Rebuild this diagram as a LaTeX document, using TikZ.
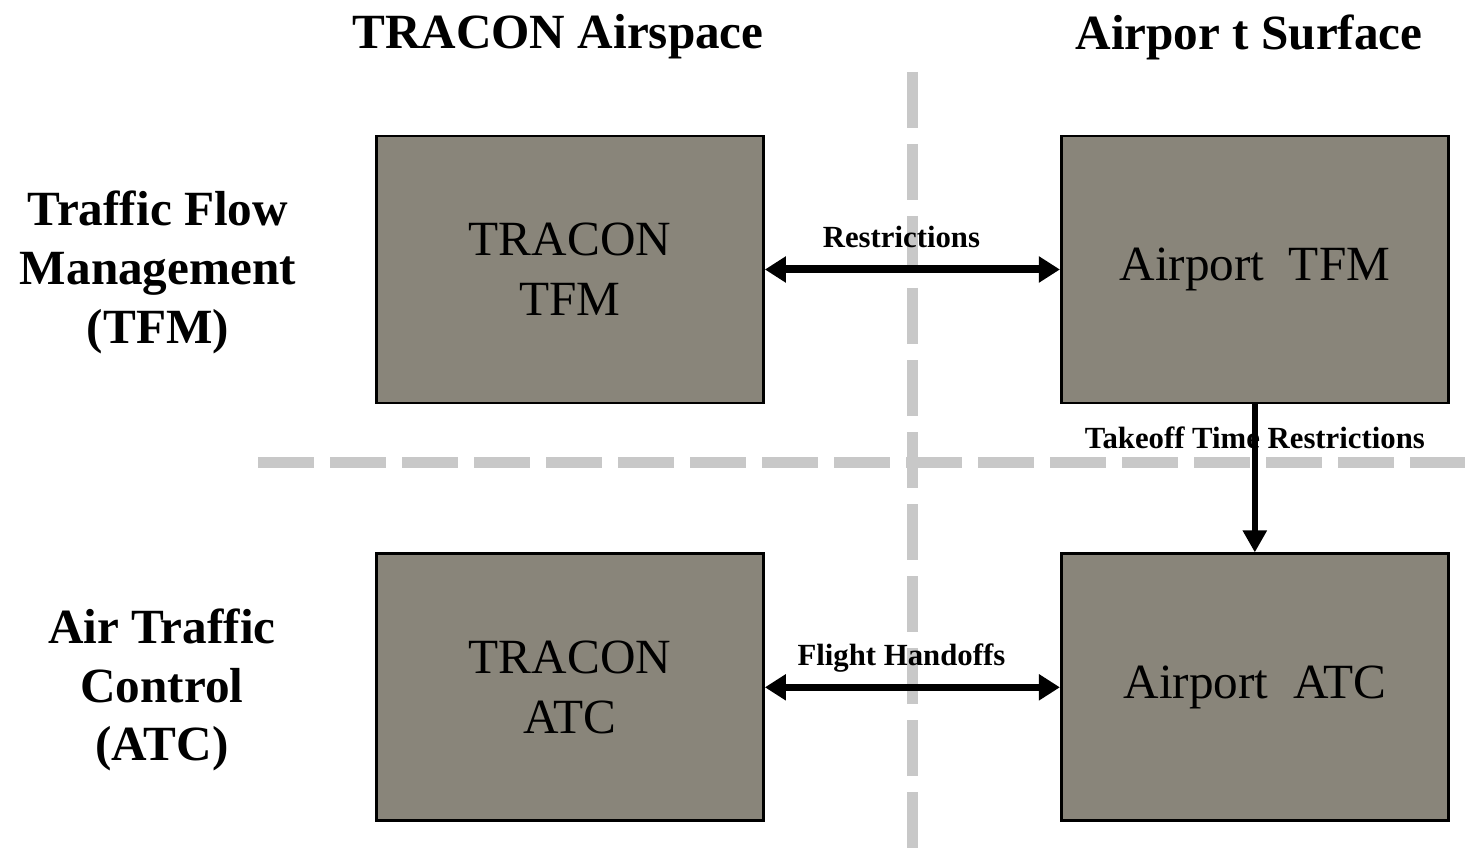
\documentclass[tikz,border=0pt]{standalone}
\usepackage{fontspec}
\setmainfont{Liberation Serif}
\usepackage{xcolor}
\usepackage{tikz}
\usetikzlibrary{positioning, arrows.meta}

\definecolor{boxfill}{RGB}{137,133,122}
\definecolor{divgray}{RGB}{200,200,200}

\begin{document}
\begin{tikzpicture}[
        box/.style={draw, line width=1.6pt, fill=boxfill, minimum width=7.74cm, minimum height=5.34cm,
                    inner sep=0pt, align=center, font=\fontsize{28}{34}\selectfont},
        heading/.style={align=center, font=\fontsize{28}{33.5}\selectfont\bfseries},
        lbl/.style={font=\fontsize{17.5}{20}\selectfont\bfseries, inner sep=0pt, anchor=base},
        divider/.style={divgray, line width=0.22cm, dash pattern=on 1.12cm off 0.32cm},
        link/.style={{Triangle[length=0.42cm,width=0.5cm]}-{Triangle[length=0.42cm,width=0.5cm]}, line width=0.16cm},
        flow/.style={-{Triangle[length=0.44cm,width=0.46cm]}, line width=0.13cm}
    ]
    \useasboundingbox (0,0) rectangle (29.3,-16.98);

    % Dividers
    \coordinate (vtop) at (18.24,-1.44);
    \coordinate (vbot) at (18.24,-16.98);
    \coordinate (hleft) at (5.16,-9.24);
    \coordinate (hright) at (29.3,-9.24);
    \draw[divider] (vtop) -- (vbot);
    \draw[divider] (hleft) -- (hright);

    % Nodes
    \node[box] (tracontfm) at (11.4,-5.39) {TRACON\\TFM};
    \node[box, right=5.9cm of tracontfm] (airporttfm) {Airport\ \ TFM};
    \node[box, below=2.96cm of tracontfm] (traconatc) {TRACON\\ATC};
    \node[box, below=2.96cm of airporttfm] (airportatc) {Airport\ \ ATC};

    % Headings
    \node[heading] (airspace) at (11.16,-0.74) {TRACON Airspace};
    \node[heading] (surface) at (24.98,-0.74) {Airpor t Surface};
    \node[heading] (tfmrow) at (3.16,-5.45) {Traffic Flow\\Management\\(TFM)};
    \node[heading] (atcrow) at (3.24,-13.8) {Air Traffic\\Control\\(ATC)};

    % Arrows
    \draw[link] (tracontfm) -- node[lbl, yshift=0.44cm, xshift=-0.22cm] (restr) {Restrictions} (airporttfm);
    \draw[link, line width=0.13cm] (traconatc) -- node[lbl, yshift=0.44cm, xshift=-0.22cm] (handoff) {Flight Handoffs} (airportatc);

    \node[lbl] (takeoff) at ([yshift=-0.88cm]airporttfm.south) {Takeoff Time Restrictions};
    \draw[flow] (airporttfm) -- (airportatc);

\end{tikzpicture}
\end{document}
